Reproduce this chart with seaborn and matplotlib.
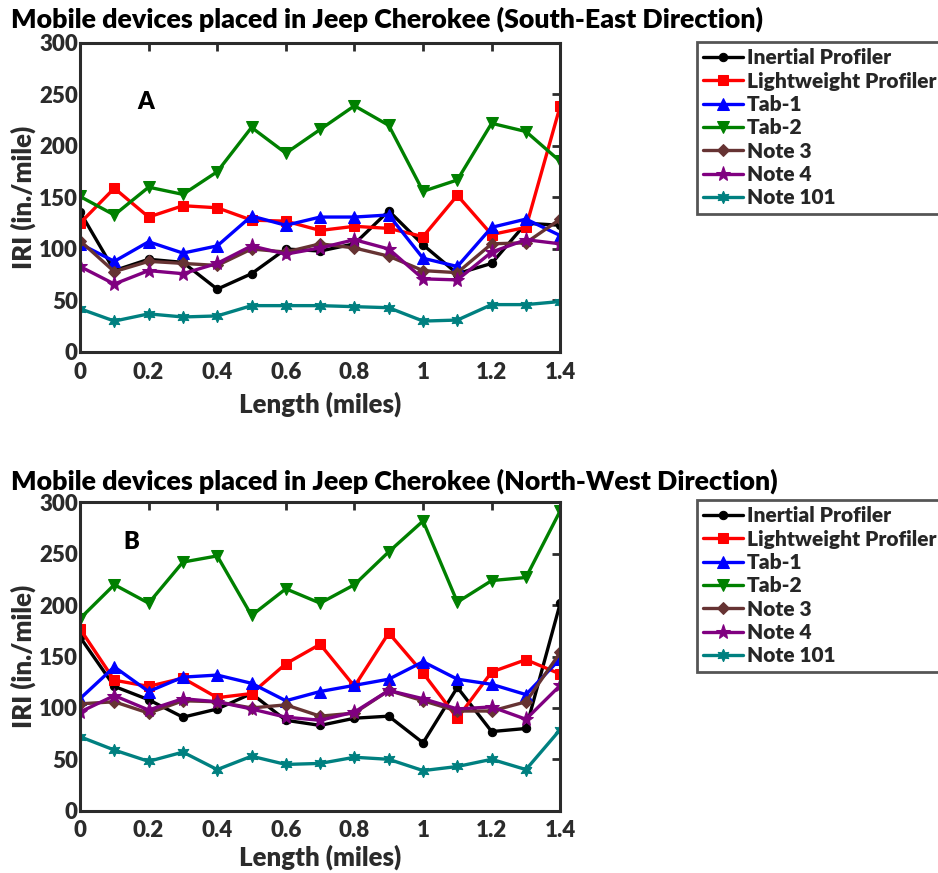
import matplotlib
matplotlib.use("Agg")
import matplotlib.pyplot as plt
import seaborn as sns
import numpy as np
import pandas as pd

# Distance along the section (miles)
length_mi = [0.0, 0.1, 0.2, 0.3, 0.4, 0.5, 0.6, 0.7, 0.8, 0.9, 1.0, 1.1, 1.2, 1.3, 1.4]

devices = ["Inertial Profiler", "Lightweight Profiler", "Tab-1", "Tab-2",
           "Note 3", "Note 4", "Note 101"]

# IRI values (in./mile), South-East direction
se_inertial = [136, 79, 90, 87, 61, 76, 100, 98, 105, 137, 104, 76, 86, 125, 123]
se_lightweight = [125, 159, 131, 142, 140, 128, 127, 118, 122, 120, 112, 152, 114, 121, 239]
se_tab1 = [105, 88, 107, 96, 103, 132, 123, 131, 131, 133, 91, 83, 121, 129, 113]
se_tab2 = [151, 133, 160, 153, 175, 218, 193, 216, 239, 220, 156, 167, 222, 214, 185]
se_note3 = [108, 78, 88, 86, 84, 100, 97, 105, 101, 93, 79, 77, 105, 106, 129]
se_note4 = [83, 66, 79, 76, 86, 103, 95, 101, 109, 100, 71, 70, 97, 109, 105]
se_note101 = [42, 30, 37, 34, 35, 45, 45, 45, 44, 43, 30, 31, 46, 46, 49]

# IRI values (in./mile), North-West direction
nw_inertial = [169, 121, 108, 91, 99, 114, 88, 83, 90, 92, 66, 120, 77, 80, 202]
nw_lightweight = [177, 127, 121, 129, 110, 114, 143, 162, 121, 173, 134, 90, 135, 147, 133]
nw_tab1 = [109, 140, 116, 130, 132, 124, 107, 116, 122, 128, 145, 128, 123, 113, 148]
nw_tab2 = [187, 220, 202, 242, 248, 190, 216, 202, 220, 252, 282, 203, 224, 227, 292]
nw_note3 = [104, 106, 95, 107, 106, 100, 103, 92, 95, 117, 107, 97, 97, 106, 154]
nw_note4 = [96, 112, 98, 109, 106, 99, 91, 88, 96, 117, 109, 99, 101, 89, 122]
nw_note101 = [72, 59, 48, 57, 40, 53, 45, 46, 52, 50, 39, 43, 50, 40, 79]

panels = [
    ("Mobile devices placed in Jeep Cherokee (South-East Direction)", "A",
     [se_inertial, se_lightweight, se_tab1, se_tab2, se_note3, se_note4, se_note101]),
    ("Mobile devices placed in Jeep Cherokee (North-West Direction)", "B",
     [nw_inertial, nw_lightweight, nw_tab1, nw_tab2, nw_note3, nw_note4, nw_note101]),
]

colors = ["#000000", "#ff0000", "#0000ff", "#008000", "#663333", "#800080", "#008080"]
markers = ["o", "s", "^", "v", "D", "*", (6, 1, 0)]
msizes = [6, 7, 8, 8, 6, 11, 9]

sns.set_theme(style="white")
plt.rcParams["font.family"] = ["Lato", "DejaVu Sans"]
plt.rcParams["font.weight"] = "heavy"
axis_col = "#2b2b2b"
W = "heavy"

fig = plt.figure(figsize=(9.38, 8.73), dpi=100)
ax_boxes = [
    [0.0853, 0.5968, 0.512, 0.354],
    [0.0853, 0.0714, 0.512, 0.353],
]
label_pos = [(0.19, 243), (0.15, 262)]
title_y = [0.978, 0.449]
legend_y = [0.952, 0.4273]
xlabel_pad = [6, 2]

for i, (title, tag, series) in enumerate(panels):
    ax = fig.add_axes(ax_boxes[i])
    for name, vals, c, m, ms in zip(devices, series, colors, markers, msizes):
        df = pd.DataFrame({"Length": length_mi, "IRI": vals})
        sns.lineplot(data=df, x="Length", y="IRI", ax=ax, color=c, marker=m,
                     markersize=ms, markeredgecolor=c, markerfacecolor=c,
                     linewidth=2.4, label=name)
    ax.set_xlim(0, 1.4)
    ax.set_ylim(0, 300)
    ax.set_xticks(np.arange(0, 1.41, 0.2))
    ax.set_xticklabels(["0", "0.2", "0.4", "0.6", "0.8", "1", "1.2", "1.4"])
    ax.set_yticks(np.arange(0, 301, 50))
    ax.tick_params(axis="both", direction="in", length=6, width=2, colors=axis_col,
                   labelsize=16, top=True, right=True)
    ax.tick_params(axis="x", pad=7)
    ax.tick_params(axis="y", pad=1.5)
    for lbl in ax.get_xticklabels() + ax.get_yticklabels():
        lbl.set_fontweight(W)
        lbl.set_color(axis_col)
    for sp in ax.spines.values():
        sp.set_linewidth(2.2)
        sp.set_color(axis_col)
    ax.set_xlabel("Length (miles)", fontsize=18.5, fontweight=W, color=axis_col,
                  labelpad=xlabel_pad[i])
    ax.set_ylabel("IRI (in./mile)", fontsize=18.5, fontweight=W, color=axis_col, labelpad=2)
    ax.text(label_pos[i][0], label_pos[i][1], tag, fontsize=17, fontweight=W,
            ha="center", va="center", color="black")
    fig.text(0.012, title_y[i], title, fontsize=19.3, fontweight=W,
             ha="left", va="center", color="black")
    leg = ax.legend(loc="upper left", bbox_to_anchor=(0.743, legend_y[i]),
                    bbox_transform=fig.transFigure, frameon=True, fancybox=False,
                    fontsize=15, handlelength=1.9, handletextpad=0.2,
                    labelspacing=0.21, borderpad=0.3, borderaxespad=0)
    leg.get_frame().set_edgecolor(axis_col)
    leg.get_frame().set_linewidth(2.0)
    for t in leg.get_texts():
        t.set_fontweight(W)

fig.savefig("out.png", dpi=100)
